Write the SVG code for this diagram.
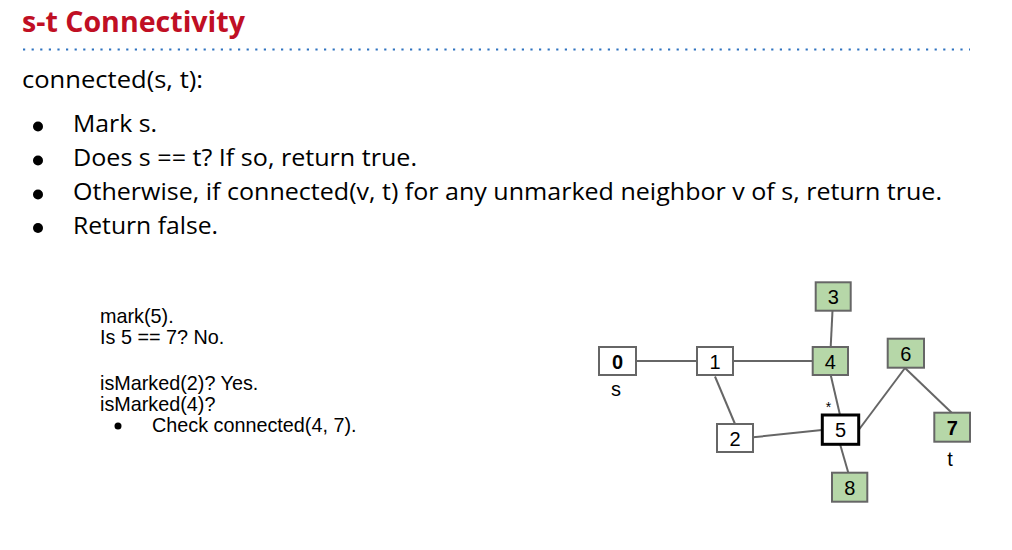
<svg xmlns="http://www.w3.org/2000/svg" width="1012" height="550" viewBox="0 0 1012 550">
<style>
.title{font-family:"Open Sans","Liberation Sans",sans-serif;font-weight:bold;font-size:28px;fill:#c00f24}
.body{font-family:"Open Sans","Liberation Sans",sans-serif;font-size:24px;fill:#000}
.small{font-family:"Liberation Sans",Arial,sans-serif;font-size:19.8px;fill:#000}
.node rect{stroke:#666;stroke-width:2;fill:#fff}
.node.g rect{fill:#b6d7a8}
.node.cur rect{stroke:#000;stroke-width:3}
.node text{font-family:"Liberation Sans",Arial,sans-serif;font-size:20px;fill:#000;text-anchor:middle}
.node text.b{font-weight:bold}
.lbl{font-family:"Liberation Sans",Arial,sans-serif;font-size:20px;fill:#000;text-anchor:middle}
#edges line{stroke:#666;stroke-width:2}
</style>
<rect width="1012" height="550" fill="#fff"/>
<text class="title" x="22" y="32" textLength="223" lengthAdjust="spacingAndGlyphs">s-t Connectivity</text>
<line x1="23" y1="49.5" x2="970" y2="49.5" stroke="#2f73c0" stroke-width="2.2" stroke-dasharray="2.2 6.4"/>
<text class="body" x="22" y="88" textLength="181" lengthAdjust="spacingAndGlyphs">connected(s, t):</text>
<g fill="#000">
<circle cx="38" cy="126.5" r="5"/>
<circle cx="38" cy="160.5" r="5"/>
<circle cx="38" cy="194.5" r="5"/>
<circle cx="38" cy="228" r="5"/>
</g>
<text class="body" x="73" y="132" textLength="84" lengthAdjust="spacingAndGlyphs">Mark s.</text>
<text class="body" x="73" y="166" textLength="344" lengthAdjust="spacingAndGlyphs">Does s == t? If so, return true.</text>
<text class="body" x="73" y="200" textLength="869" lengthAdjust="spacingAndGlyphs">Otherwise, if connected(v, t) for any unmarked neighbor v of s, return true.</text>
<text class="body" x="73" y="234" textLength="145" lengthAdjust="spacingAndGlyphs">Return false.</text>

<g id="trace">
<text class="small" x="100" y="323">mark(5).</text>
<text class="small" x="100" y="344">Is 5 == 7? No.</text>
<text class="small" x="100" y="390">isMarked(2)? Yes.</text>
<text class="small" x="100" y="411">isMarked(4)?</text>
<circle cx="118" cy="426" r="3.5" fill="#000"/>
<text class="small" x="152" y="432">Check connected(4, 7).</text>
</g>

<g id="edges">
<line x1="636" y1="361" x2="697" y2="361"/>
<line x1="733" y1="361" x2="813" y2="361"/>
<line x1="832.5" y1="310.7" x2="830.7" y2="347"/>
<line x1="715" y1="376.5" x2="735" y2="424"/>
<line x1="830.7" y1="375" x2="840" y2="415"/>
<line x1="753" y1="437.3" x2="822" y2="430"/>
<line x1="859" y1="429.5" x2="905" y2="368"/>
<line x1="905" y1="368" x2="951.7" y2="412.7"/>
<line x1="840" y1="444" x2="848.3" y2="472.7"/>
</g>

<g id="node0" class="node"><rect x="599" y="347" width="37" height="28"/><text class="b" x="617.5" y="368.5">0</text></g>
<g id="node1" class="node"><rect x="697" y="347" width="36" height="28"/><text x="715" y="368.5">1</text></g>
<g id="node2" class="node"><rect x="717" y="424" width="36" height="28"/><text x="735" y="445.5">2</text></g>
<g id="node3" class="node g"><rect x="815.7" y="282.3" width="35" height="28.4"/><text x="833.2" y="304">3</text></g>
<g id="node4" class="node g"><rect x="812.7" y="347" width="35.3" height="28"/><text x="830.4" y="368.5">4</text></g>
<g id="node5" class="node cur"><rect x="822.3" y="415" width="36.4" height="29.3"/><text x="840.5" y="437">5</text></g>
<g id="node6" class="node g"><rect x="887.7" y="338.7" width="36.3" height="29"/><text x="905.8" y="360.5">6</text></g>
<g id="node7" class="node g"><rect x="934.3" y="412.7" width="35.7" height="29"/><text class="b" x="952.2" y="434.5">7</text></g>
<g id="node8" class="node g"><rect x="832" y="472.7" width="35.3" height="29"/><text x="849.7" y="494.5">8</text></g>

<text class="lbl" x="616" y="396">s</text>
<text class="lbl" x="950" y="466">t</text>
<text class="lbl" x="828.5" y="412" style="font-size:14px">*</text>
</svg>
